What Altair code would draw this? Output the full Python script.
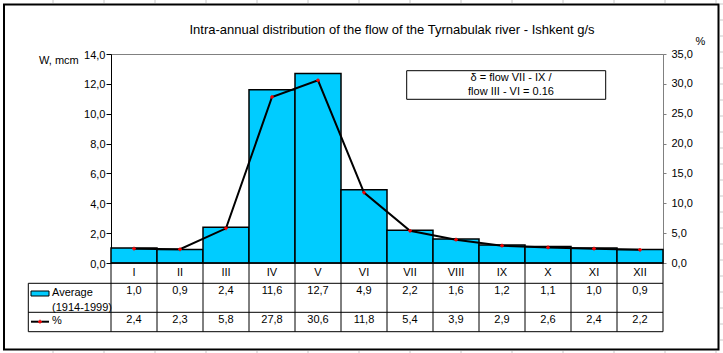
import altair as alt
import pandas as pd

# ---- data ----
months = ["I", "II", "III", "IV", "V", "VI", "VII", "VIII", "IX", "X", "XI", "XII"]
flow = [1.0, 0.9, 2.4, 11.6, 12.7, 4.9, 2.2, 1.6, 1.2, 1.1, 1.0, 0.9]
percent = [2.4, 2.3, 5.8, 27.8, 30.6, 11.8, 5.4, 3.9, 2.9, 2.6, 2.4, 2.2]
left_ticks = [0, 2, 4, 6, 8, 10, 12, 14]
right_ticks = [0, 5, 10, 15, 20, 25, 30, 35]
title_text = "Intra-annual distribution of the flow of the Tyrnabulak river - Ishkent g/s"
note_lines = ["δ = flow VII - IX /", "flow III - VI = 0.16"]
legend_flow = ["Average", "(1914-1999)"]
legend_pct = "%"
left_title = "W, mcm"
right_title = "%"

F = "Liberation Sans"
BLUE = "#00CCFF"

def comma(v):
    return f"{v:.1f}".replace(".", ",")

n = len(months)
df = pd.DataFrame({
    "month": months,
    "x0": list(range(n)),
    "x1": [i + 1 for i in range(n)],
    "xc": [i + 0.5 for i in range(n)],
    "W": flow,
    "P": percent,
    "Wlab": [comma(v) for v in flow],
    "Plab": [comma(v) for v in percent],
})
bounds = pd.DataFrame({"b": list(range(n + 1))})

W, H = 552, 209
OX, OY = 111, 54
xs = alt.Scale(domain=[0, n], nice=False, zero=False)
lab_expr = "replace(format(datum.value, '.1f'), '.', ',')"

one = pd.DataFrame({"k": [0]})

# spreadsheet cell grid visible around the chart object (decoration)
gv = [53 + 51 * k - OX for k in range(14)]
grid_top = pd.DataFrame({"gx": gv})
grid_right = pd.DataFrame({"gy": [4 + 16 * k - OY for k in range(22)]})
g_top = alt.Chart(grid_top).mark_rule(color="#c8c8c8").encode(
    x=alt.X("gx:Q", scale=None), y=alt.value(-OY), y2=alt.value(3 - OY))
g_bot = alt.Chart(grid_top).mark_rule(color="#c8c8c8").encode(
    x=alt.X("gx:Q", scale=None), y=alt.value(351 - OY), y2=alt.value(353 - OY))
g_right = alt.Chart(grid_right).mark_rule(color="#c8c8c8").encode(
    y=alt.Y("gy:Q", scale=None), x=alt.value(720 - OX), x2=alt.value(723 - OX))

# outer chart border
border = alt.Chart(one).mark_rect(fill="white", fillOpacity=0, stroke="black", strokeWidth=2).encode(
    x=alt.value(-107), x2=alt.value(607.5), y=alt.value(-49.5), y2=alt.value(295.5))

bars = alt.Chart(df).mark_bar(fill=BLUE, stroke="black", strokeWidth=1.5).encode(
    x=alt.X("x0:Q", scale=xs, axis=None),
    x2="x1:Q",
    y=alt.Y("W:Q", scale=alt.Scale(domain=[0, 14], nice=False),
            axis=alt.Axis(orient="left", values=left_ticks, title=None, grid=False,
                          labelExpr=lab_expr, domainColor="black", tickColor="black",
                          tickSize=5, labelPadding=1, labelFont=F, labelFontSize=11,
                          labelColor="black", domainWidth=1, tickWidth=1, labelOffset=1)),
    y2=alt.datum(0),
)

right_axis = alt.Axis(orient="right", values=right_ticks, title=None, grid=False,
                      labelExpr=lab_expr, domainColor="#808080", tickColor="#808080",
                      tickSize=3, labelPadding=5, labelFont=F, labelFontSize=11,
                      labelColor="black")
line = alt.Chart(df).mark_line(color="black", strokeWidth=2).encode(
    x=alt.X("xc:Q", scale=xs, axis=None),
    y=alt.Y("P:Q", scale=alt.Scale(domain=[0, 35], nice=False), axis=right_axis),
)
pts = alt.Chart(df).mark_point(shape="cross", filled=True, color="red", size=14, opacity=1).encode(
    x=alt.X("xc:Q", scale=xs, axis=None),
    y=alt.Y("P:Q", scale=alt.Scale(domain=[0, 35], nice=False), axis=right_axis),
)
line_layer = alt.layer(line, pts)

# table lines
vlines = alt.Chart(bounds).mark_rule(color="black", strokeWidth=1).encode(
    x=alt.X("b:Q", scale=xs, axis=None), y=alt.value(H), y2=alt.value(277.7))
hl = pd.DataFrame({"r": [0]})
hlines = alt.layer(*[
    alt.Chart(hl).mark_rule(color="black", strokeWidth=1).encode(
        x=alt.value(x0), x2=alt.value(W), y=alt.value(yy))
    for x0, yy in [(0, H), (-82.7, 229.3), (-82.7, 258.3), (-82.7, 277.7)]
])
lborder = alt.Chart(hl).mark_rule(color="black", strokeWidth=1).encode(
    x=alt.value(-82.7), y=alt.value(229.3), y2=alt.value(277.7))

txt = dict(font=F, fontSize=11, baseline="middle", align="center", color="black")
row_m = alt.Chart(df).mark_text(**txt).encode(
    x=alt.X("xc:Q", scale=xs, axis=None), y=alt.value(218.5), text="month:N")
row_w = alt.Chart(df).mark_text(**txt).encode(
    x=alt.X("xc:Q", scale=xs, axis=None), y=alt.value(237), text="Wlab:N")
row_p = alt.Chart(df).mark_text(**txt).encode(
    x=alt.X("xc:Q", scale=xs, axis=None), y=alt.value(265.5), text="Plab:N")

# legend cells
sw = alt.Chart(one).mark_rect(fill=BLUE, stroke="black", strokeWidth=1).encode(
    x=alt.value(-80), x2=alt.value(-62), y=alt.value(237), y2=alt.value(242))
lg_txt = alt.Chart(pd.DataFrame({"t": legend_flow, "yy": [239, 254]})).mark_text(
    font=F, fontSize=11, baseline="middle", align="left", color="black").encode(
    x=alt.value(-59), y=alt.Y("yy:Q", scale=None), text="t:N")
lg_line = alt.Chart(one).mark_rule(color="black", strokeWidth=2).encode(
    x=alt.value(-80), x2=alt.value(-62), y=alt.value(267.7))
lg_pt = alt.Chart(one).mark_point(shape="cross", filled=True, color="red", size=14, opacity=1).encode(
    x=alt.value(-71), y=alt.value(267.7))
lg_pct = alt.Chart(pd.DataFrame({"t": [legend_pct]})).mark_text(
    font=F, fontSize=11, baseline="middle", align="left", color="black").encode(
    x=alt.value(-59), y=alt.value(267), text="t:N")

# titles
title = alt.Chart(pd.DataFrame({"t": [title_text]})).mark_text(
    font=F, fontSize=13, baseline="middle", align="center", color="black").encode(
    x=alt.value(281), y=alt.value(-24), text="t:N")
ltitle = alt.Chart(pd.DataFrame({"t": [left_title]})).mark_text(
    font=F, fontSize=11, baseline="middle", align="left", color="black").encode(
    x=alt.value(-72), y=alt.value(6.5), text="t:N")
rtitle = alt.Chart(pd.DataFrame({"t": [right_title]})).mark_text(
    font=F, fontSize=11, baseline="middle", align="center", color="black").encode(
    x=alt.value(589.5), y=alt.value(-12.3), text="t:N")

# note box
box = alt.Chart(one).mark_rect(fill="white", stroke="black", strokeWidth=1).encode(
    x=alt.value(295.7), x2=alt.value(494.7), y=alt.value(16.7), y2=alt.value(45.3))
box_txt = alt.Chart(pd.DataFrame({"t": note_lines, "yy": [24, 38]})).mark_text(
    font=F, fontSize=11, baseline="middle", align="center", color="black").encode(
    x=alt.value(400), y=alt.Y("yy:Q", scale=None), text="t:N")

chart = alt.layer(
    g_top, g_bot, g_right,
    border, bars, line_layer, vlines, hlines, lborder, row_m, row_w, row_p,
    sw, lg_txt, lg_line, lg_pt, lg_pct, title, ltitle, rtitle, box, box_txt,
).resolve_scale(y="independent").properties(
    width=W, height=H,
    autosize=alt.AutoSizeParams(type="none"),
    padding={"left": OX, "top": OY, "right": 723 - OX - W, "bottom": 353 - OY - H},
    background="white",
).configure_view(stroke="#808080", strokeWidth=1)

chart.save("out.html", embed_options={"renderer": "svg", "actions": False})
